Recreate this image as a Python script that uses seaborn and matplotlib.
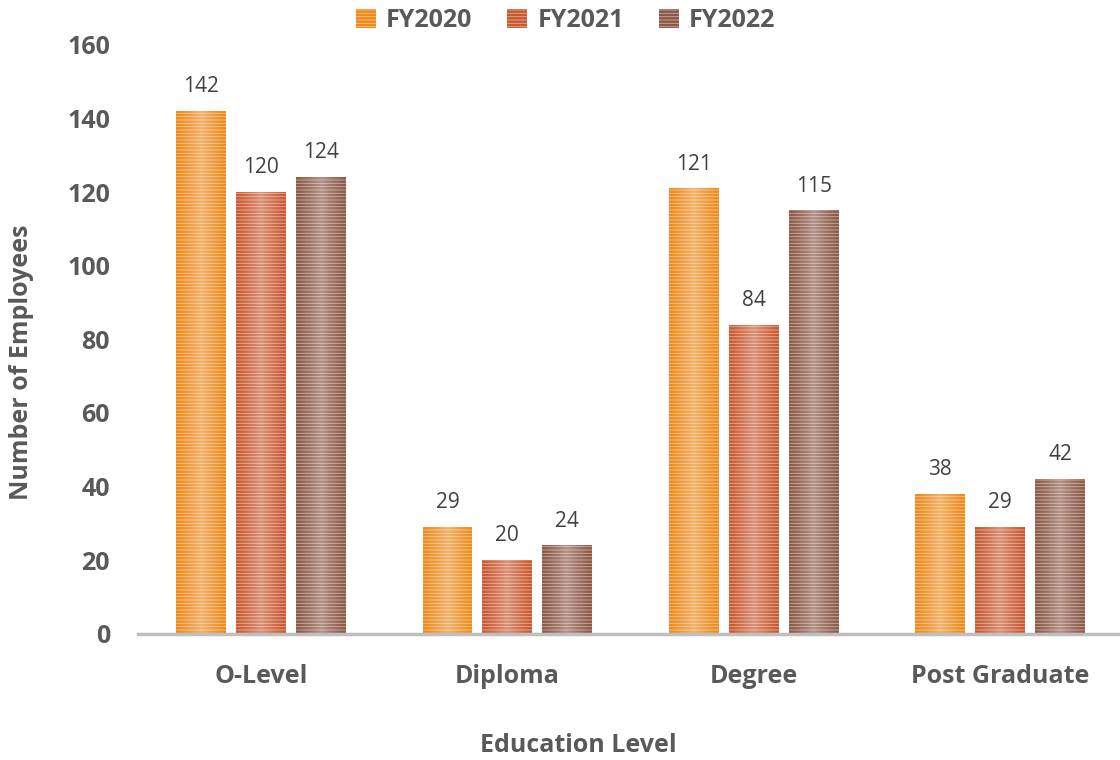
import numpy as np
import pandas as pd
import matplotlib
matplotlib.use("Agg")
import matplotlib.pyplot as plt
import matplotlib.colors as mcolors
from matplotlib.patches import Patch
import seaborn as sns

# Employees by education level, per financial year
levels = ["O-Level", "Diploma", "Degree", "Post Graduate"]
years = ["FY2020", "FY2021", "FY2022"]
fy2020 = [142, 29, 121, 38]
fy2021 = [120, 20, 84, 29]
fy2022 = [124, 24, 115, 42]

base_colors = ["#EE8A1A", "#C9582F", "#8C5846"]

df = pd.DataFrame({
    "level": levels * 3,
    "year": [y for y in years for _ in levels],
    "count": fy2020 + fy2021 + fy2022,
})

sns.set_theme(style="white")
plt.rcParams["font.family"] = ["Open Sans", "DejaVu Sans"]
plt.rcParams["hatch.linewidth"] = 1.8

TEXT = "#595959"

fig = plt.figure(figsize=(11.2, 7.6), dpi=100)
ax = fig.add_axes([0.123, 0.166, 0.88, 0.775])

sns.barplot(data=df, x="level", y="count", hue="year", order=levels,
            hue_order=years, palette=base_colors, width=0.73, gap=0.17,
            legend=False, ax=ax, saturation=1)


def tint(c, amount):
    r, g, b = mcolors.to_rgb(c)
    return (r + (1 - r) * amount, g + (1 - g) * amount, b + (1 - b) * amount)


# striped fill: light face with coloured horizontal hatch lines
grad = np.linspace(-1, 1, 64)
glow = np.zeros((1, 64, 4))
glow[..., :3] = 1.0
glow[..., 3] = 0.35 * (1 - np.abs(grad)) ** 1.2

for container, col in zip(ax.containers, base_colors):
    for bar, val in zip(container, container.datavalues):
        bar.set_facecolor(tint(col, 0.5))
        bar.set_edgecolor(col)
        bar.set_hatch("-----")
        bar.set_linewidth(0)
        x0, w, h = bar.get_x(), bar.get_width(), bar.get_height()
        im = ax.imshow(glow, extent=(x0, x0 + w, 0, h), aspect="auto",
                       zorder=bar.get_zorder() + 0.5, interpolation="bicubic")
        im.set_clip_path(bar)
        ax.annotate(f"{val:g}", (x0 + w / 2, h), xytext=(0, 10),
                    textcoords="offset points", ha="center", va="bottom",
                    fontsize=15, color="#404040")

ax.set_xlim(-0.5, 3.5)
ax.set_ylim(0, 160)
ax.set_yticks(range(0, 161, 20))
ax.tick_params(axis="both", length=0, labelsize=18, colors=TEXT)
for lab in ax.get_xticklabels() + ax.get_yticklabels():
    lab.set_fontweight("bold")
ax.tick_params(axis="y", pad=20)
ax.tick_params(axis="x", pad=22)

for s in ["left", "right", "top"]:
    ax.spines[s].set_visible(False)
ax.spines["bottom"].set_color("#BFBFBF")
ax.spines["bottom"].set_linewidth(2.5)

ax.set_xlabel("")
ax.set_ylabel("")
fig.text(0.516, 1 - 745 / 760, "Education Level", ha="center", va="center",
         fontsize=18, fontweight="bold", color=TEXT)
fig.text(22 / 1120, 1 - 362 / 760, "Number of Employees", ha="center",
         va="center", rotation=90, fontsize=18, fontweight="bold", color=TEXT)

handles = [Patch(facecolor=tint(c, 0.5), edgecolor=c, hatch="-----",
                 linewidth=0, label=y) for c, y in zip(base_colors, years)]
fig.legend(handles=handles, loc="center", bbox_to_anchor=(0.505, 0.973),
           ncol=3, frameon=False, handlelength=0.8,
           handleheight=0.8, handletextpad=0.4, columnspacing=1.4,
           prop={"weight": "bold", "size": 18}, labelcolor=TEXT)

fig.savefig("out.png", dpi=100)
